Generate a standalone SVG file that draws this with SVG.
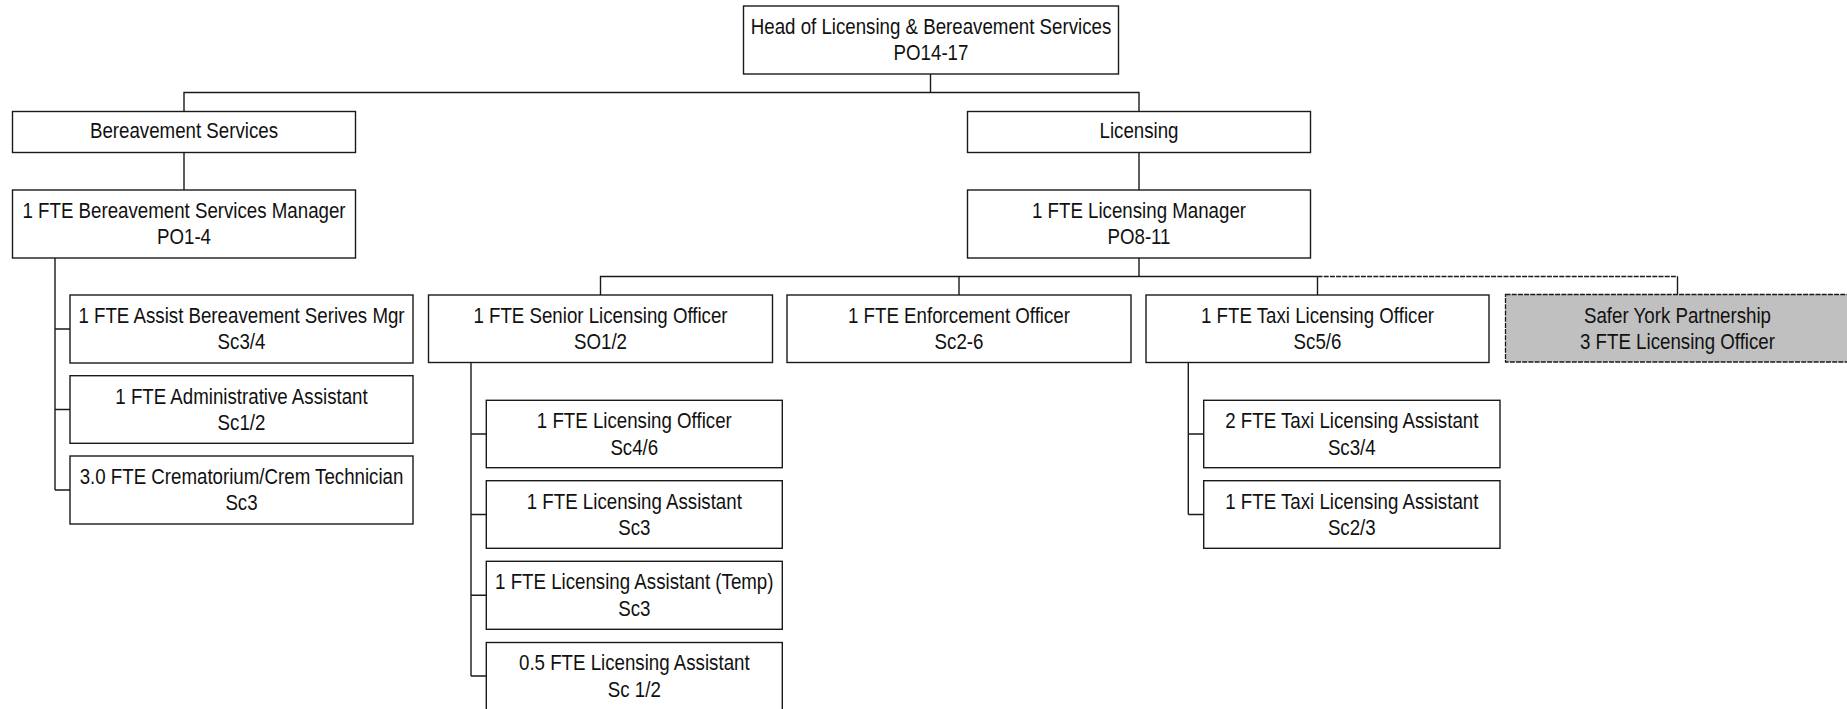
<svg xmlns="http://www.w3.org/2000/svg" width="1847" height="709" viewBox="0 0 1847 709">
<style>
.b{fill:#fff;stroke:#1a1a1a;stroke-width:1.4}
.g{fill:#c0c0c0;stroke:#1a1a1a;stroke-width:1.3;stroke-dasharray:5 1.2}
.c{fill:none;stroke:#1a1a1a;stroke-width:1.4}
.d{fill:none;stroke:#1a1a1a;stroke-width:1.3;stroke-dasharray:5 1.2}
text{font-family:'Liberation Sans',Arial,sans-serif;font-size:22px;fill:#111;text-anchor:middle}
</style>
<rect width="1847" height="709" fill="#fff"/>
<g id="connectors">
<path class="c" d="M930.5 74V92.5M184 111.5V92.5H1139V111.5M184 152.5V190M1139 152.5V190M1139 258V276.5M600.5 295V276.5H1317.5M959 276.5V295M1317.5 276.5V295M1677.5 276.5V294.5"/>
<path class="d" d="M1317.5 276.5H1677.5"/>
<path class="c" d="M55 258V490M55 329H70M55 409.5H70M55 490H70"/>
<path class="c" d="M471 362.5V676M471 434H486.3M471 514.5H486.3M471 595.3H486.3M471 676H486.3"/>
<path class="c" d="M1188.3 362.5V514.5M1188.3 434H1203.7M1188.3 514.5H1203.7"/>
</g>
<g id="head"><rect class="b" x="743.5" y="6" width="375" height="68"/><text transform="matrix(0.85 0 0 1 931 0)" y="34">Head of Licensing &amp; Bereavement Services</text><text transform="matrix(0.85 0 0 1 931 0)" y="60.5">PO14-17</text></g>
<g id="bereavement"><rect class="b" x="12.5" y="111.5" width="343" height="41"/><text transform="matrix(0.85 0 0 1 184 0)" y="138">Bereavement Services</text></g>
<g id="licensing"><rect class="b" x="967.5" y="111.5" width="343" height="41"/><text transform="matrix(0.85 0 0 1 1139 0)" y="138">Licensing</text></g>
<g id="bsm"><rect class="b" x="12.5" y="190" width="343" height="68"/><text transform="matrix(0.85 0 0 1 184 0)" y="218">1 FTE Bereavement Services Manager</text><text transform="matrix(0.85 0 0 1 184 0)" y="244.5">PO1-4</text></g>
<g id="lm"><rect class="b" x="967.5" y="190" width="343" height="68"/><text transform="matrix(0.85 0 0 1 1139 0)" y="218">1 FTE Licensing Manager</text><text transform="matrix(0.85 0 0 1 1139 0)" y="244.5">PO8-11</text></g>
<g id="assist"><rect class="b" x="70" y="295" width="343" height="68"/><text transform="matrix(0.85 0 0 1 241.5 0)" y="323">1 FTE Assist Bereavement Serives Mgr</text><text transform="matrix(0.85 0 0 1 241.5 0)" y="349.5">Sc3/4</text></g>
<g id="admin"><rect class="b" x="70" y="375.7" width="343" height="67.6"/><text transform="matrix(0.85 0 0 1 241.5 0)" y="403.7">1 FTE Administrative Assistant</text><text transform="matrix(0.85 0 0 1 241.5 0)" y="430.2">Sc1/2</text></g>
<g id="crem"><rect class="b" x="70" y="456" width="343" height="68"/><text transform="matrix(0.85 0 0 1 241.5 0)" y="484">3.0 FTE Crematorium/Crem Technician</text><text transform="matrix(0.85 0 0 1 241.5 0)" y="510.5">Sc3</text></g>
<g id="senior"><rect class="b" x="428.5" y="295" width="344" height="67.5"/><text transform="matrix(0.85 0 0 1 600.5 0)" y="323">1 FTE Senior Licensing Officer</text><text transform="matrix(0.85 0 0 1 600.5 0)" y="349.5">SO1/2</text></g>
<g id="enforcement"><rect class="b" x="787" y="295" width="344" height="67.5"/><text transform="matrix(0.85 0 0 1 959 0)" y="323">1 FTE Enforcement Officer</text><text transform="matrix(0.85 0 0 1 959 0)" y="349.5">Sc2-6</text></g>
<g id="taxiofficer"><rect class="b" x="1146" y="295" width="343" height="67.5"/><text transform="matrix(0.85 0 0 1 1317.5 0)" y="323">1 FTE Taxi Licensing Officer</text><text transform="matrix(0.85 0 0 1 1317.5 0)" y="349.5">Sc5/6</text></g>
<g id="saferyork"><rect class="g" x="1505.5" y="294.5" width="346" height="67.5"/><text transform="matrix(0.85 0 0 1 1677.5 0)" y="323">Safer York Partnership</text><text transform="matrix(0.85 0 0 1 1677.5 0)" y="349.5">3 FTE Licensing Officer</text></g>
<g id="lo"><rect class="b" x="486.3" y="400.3" width="296" height="67.4"/><text transform="matrix(0.85 0 0 1 634.3 0)" y="428.3">1 FTE Licensing Officer</text><text transform="matrix(0.85 0 0 1 634.3 0)" y="454.8">Sc4/6</text></g>
<g id="la"><rect class="b" x="486.3" y="480.7" width="296" height="67.6"/><text transform="matrix(0.85 0 0 1 634.3 0)" y="508.7">1 FTE Licensing Assistant</text><text transform="matrix(0.85 0 0 1 634.3 0)" y="535.2">Sc3</text></g>
<g id="latemp"><rect class="b" x="486.3" y="561.3" width="296" height="68"/><text transform="matrix(0.85 0 0 1 634.3 0)" y="589.3">1 FTE Licensing Assistant (Temp)</text><text transform="matrix(0.85 0 0 1 634.3 0)" y="615.8">Sc3</text></g>
<g id="la05"><rect class="b" x="486.3" y="642.5" width="296" height="68"/><text transform="matrix(0.85 0 0 1 634.3 0)" y="670.5">0.5 FTE Licensing Assistant</text><text transform="matrix(0.85 0 0 1 634.3 0)" y="697">Sc 1/2</text></g>
<g id="taxi2"><rect class="b" x="1203.7" y="400.3" width="296.3" height="67.4"/><text transform="matrix(0.85 0 0 1 1351.8 0)" y="428.3">2 FTE Taxi Licensing Assistant</text><text transform="matrix(0.85 0 0 1 1351.8 0)" y="454.8">Sc3/4</text></g>
<g id="taxi1"><rect class="b" x="1203.7" y="480.7" width="296.3" height="67.6"/><text transform="matrix(0.85 0 0 1 1351.8 0)" y="508.7">1 FTE Taxi Licensing Assistant</text><text transform="matrix(0.85 0 0 1 1351.8 0)" y="535.2">Sc2/3</text></g>
</svg>
